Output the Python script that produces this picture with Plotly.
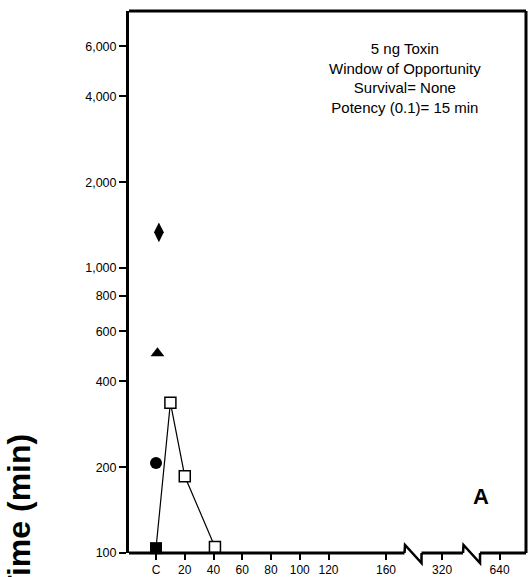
import plotly.graph_objects as go

# ---- data ----
x_tick_vals = [0, 20, 40, 60, 80, 100, 120, 160, 199, 239]
x_tick_text = ["C", "20", "40", "60", "80", "100", "120", "160", "320", "640"]
y_tick_vals = [100, 200, 400, 600, 800, 1000, 2000, 4000, 6000]
y_tick_text = ["100", "200", "400", "600", "800", "1,000", "2,000", "4,000", "6,000"]

line_x = [0, 10, 20, 41]
line_y = [104, 337, 186, 105]
open_x = [10, 20, 41]
open_y = [337, 186, 105]
sq_x, sq_y = [0], [104]
circ_x, circ_y = [0], [207]
tri_x, tri_y = [1], [502]
dia_x, dia_y = [2], [1334]

x_range = [-18.8, 257.4]
y_range = [2, 3.902]
breaks = [178.8, 219.5]

W, H = 528, 577
ml, mr, mt, mb = 129, 2, 11, 24
pw, ph = W - ml - mr, H - mt - mb

def xp(v):
    return (v - x_range[0]) / (x_range[1] - x_range[0])

FONT = "Arial, Liberation Sans, Helvetica, sans-serif"

fig = go.Figure()
fig.add_trace(go.Scatter(x=line_x, y=line_y, mode="lines",
                         line=dict(color="black", width=1.2), cliponaxis=False,
                         showlegend=False, hoverinfo="skip"))
fig.add_trace(go.Scatter(x=open_x, y=open_y, mode="markers", cliponaxis=False,
                         marker=dict(symbol="square", size=11, color="white",
                                     line=dict(color="black", width=1.5)), showlegend=False))
fig.add_trace(go.Scatter(x=sq_x, y=sq_y, mode="markers", cliponaxis=False,
                         marker=dict(symbol="square", size=12, color="black"), showlegend=False))
fig.add_trace(go.Scatter(x=circ_x, y=circ_y, mode="markers", cliponaxis=False,
                         marker=dict(symbol="circle", size=12, color="black"), showlegend=False))
fig.add_trace(go.Scatter(x=tri_x, y=tri_y, mode="markers", cliponaxis=False,
                         marker=dict(symbol="triangle-up", size=12, color="black"), showlegend=False))
fig.add_trace(go.Scatter(x=dia_x, y=dia_y, mode="markers", cliponaxis=False,
                         marker=dict(symbol="diamond-tall", size=14, color="black"), showlegend=False))

shapes = []
lw = 3
# top and right frame
shapes.append(dict(type="line", xref="paper", yref="paper", x0=0, x1=1, y0=1, y1=1,
                   line=dict(color="black", width=lw)))
shapes.append(dict(type="line", xref="paper", yref="paper", x0=1, x1=1, y0=0, y1=1,
                   line=dict(color="black", width=lw)))
# bottom axis with breaks
hw = 8.5 / pw
up = 8 / ph
dn = 10 / ph
segs = [0]
for b in breaks:
    c = xp(b)
    segs += [c - hw, c + hw]
segs.append(1)
for i in range(0, len(segs), 2):
    shapes.append(dict(type="line", xref="paper", yref="paper", x0=segs[i], x1=segs[i + 1],
                       y0=0, y1=0, line=dict(color="black", width=lw)))
for b in breaks:
    c = xp(b)
    a, e = c - hw, c + hw
    path = f"M{a},0 L{a + 0.5 / pw},{up} L{e},{-dn} L{e},0"
    shapes.append(dict(type="path", xref="paper", yref="paper", path=path,
                       line=dict(color="black", width=2.5)))

annotations = [
    dict(xref="paper", yref="paper", x=(405 - ml) / pw, y=(H - mb - 78) / ph,
         text="5 ng Toxin<br>Window of Opportunity<br>Survival= None<br>Potency (0.1)= 15 min",
         showarrow=False, xanchor="center", yanchor="middle", align="center",
         font=dict(family=FONT, size=15, color="black")),
    dict(xref="paper", yref="paper", x=(481 - ml) / pw, y=(H - mb - 496) / ph,
         text="<b>A</b>", showarrow=False, xanchor="center", yanchor="middle",
         font=dict(family=FONT, size=22, color="black")),
    dict(xref="paper", yref="paper", x=(19 - ml) / pw, y=(H - mb - 515) / ph,
         text="<b>Time (min)</b>", textangle=-90, showarrow=False,
         xanchor="center", yanchor="middle",
         font=dict(family=FONT, size=32, color="black")),
]

fig.update_layout(
    width=W, height=H,
    margin=dict(l=ml, r=mr, t=mt, b=mb, pad=0, autoexpand=False),
    paper_bgcolor="white", plot_bgcolor="white",
    shapes=shapes, annotations=annotations,
    xaxis=dict(range=x_range, tickvals=x_tick_vals, ticktext=x_tick_text,
               showline=False, showgrid=False, zeroline=False, automargin=False,
               ticks="outside", ticklen=6, tickwidth=2, tickcolor="black",
               tickfont=dict(family=FONT, size=12, color="black")),
    yaxis=dict(type="log", range=y_range, tickvals=y_tick_vals, ticktext=y_tick_text,
               showline=True, linewidth=lw, linecolor="black", automargin=False,
               showgrid=False, zeroline=False,
               ticks="outside", ticklen=7, tickwidth=2, tickcolor="black",
               tickfont=dict(family=FONT, size=12.5, color="black")),
    showlegend=False,
)

fig.write_html("out.html")
